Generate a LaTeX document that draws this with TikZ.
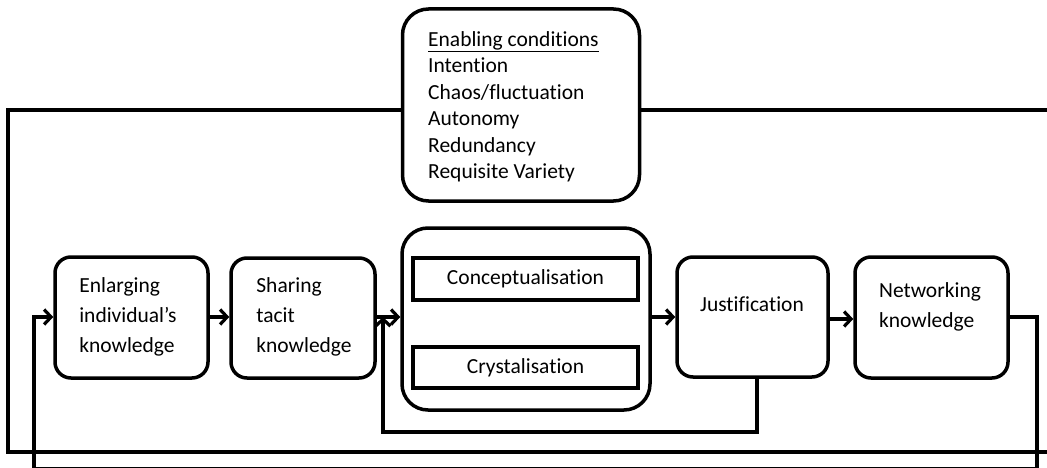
\documentclass[tikz,border=0pt]{standalone}
\usepackage{fontspec}
\setmainfont[Ligatures={NoCommon}]{Carlito}
\usetikzlibrary{arrows.meta}
\tikzset{
  rbox/.style={draw, line width=3.5pt, rounded corners=16pt, fill=white, inner sep=0pt},
  sbox/.style={draw, line width=4pt, fill=white, inner sep=0pt},
  txt/.style={align=left, font=\fontsize{21.5}{30}\selectfont, inner sep=0pt},
  link/.style={line width=4pt},
  tip/.style={-{Straight Barb[length=7pt,width=15pt,line width=3.2pt]}},
  arr/.style={line width=3.2pt, tip},
}
\begin{document}
\begin{tikzpicture}[x=1pt,y=-1pt]
\useasboundingbox (0,0) rectangle (1047,468);
\fill[white] (0,0) rectangle (1047,468);
% outer loop
\coordinate (tr) at (1049,110);
\coordinate (tl) at (8,110);
\coordinate (bl) at (8,452);
\coordinate (br) at (1049,452);
\draw[link] (tr) -- (tl) -- (bl) -- (br);
% enabling conditions
\node[rbox, rounded corners=26pt, minimum width=237pt, minimum height=192pt] (enab) at (521,105) {};
\node[txt, anchor=north west, font=\fontsize{21.5}{26.5}\selectfont] (enabt) at (428,31)
  {\underline{Enabling conditions}\\Intention\\Chaos/fluctuation\\Autonomy\\Redundancy\\Requisite Variety};
% main boxes
\node[rbox, minimum width=153pt, minimum height=121pt] (enl) at (131.5,317.5) {};
\node[txt] (enlt) at (128,317) {Enlarging\\individual’s\\knowledge};
\node[rbox, minimum width=144pt, minimum height=120pt] (shr) at (303,318) {};
\node[txt] (shrt) at (304,317) {Sharing\\tacit\\knowledge};
\node[rbox, rounded corners=26pt, minimum width=248pt, minimum height=182pt] (big) at (526,319) {};
\node[sbox, minimum width=225pt, minimum height=42pt, font=\fontsize{21.5}{26}\selectfont] (con) at (525.5,279) {Conceptualisation};
\node[sbox, minimum width=225pt, minimum height=41pt, font=\fontsize{21.5}{26}\selectfont] (cry) at (525.5,367.5) {Crystalisation};
\node[rbox, minimum width=151pt, minimum height=120pt] (just) at (752.5,317) {};
\node[txt] (justt) at (752,304) {Justification};
\node[rbox, minimum width=153pt, minimum height=121pt] (net) at (931.5,317.5) {};
\node[txt] (nett) at (930,307) {Networking\\knowledge};
% forward arrows
\draw[arr] (enl.east |- 0,317) -- (shr.west |- 0,317);
\draw[arr] (shr.east |- 0,317) -- (big.west |- 0,317);
\draw[arr] (big.east |- 0,317) -- (just.west |- 0,317);
\draw[arr] (just.east |- 0,319) -- (net.west |- 0,319);
% feedback from justification
\coordinate (jb) at (757,432);
\coordinate (jl) at (383,432);
\coordinate (jt) at (383,317);
\draw[link, tip] (just.south -| jb) -- (jb) -- (jl) -- (jt);
% feedback from networking to enlarging
\coordinate (nr) at (1037,317);
\coordinate (nb) at (1037,469.2);
\coordinate (lb) at (34,469.2);
\coordinate (lt) at (34,317);
\draw[link, tip] (net.east |- nr) -- (nr) -- (nb) -- (lb) -- (lt) -- (enl.west |- lt);
\end{tikzpicture}
\end{document}
